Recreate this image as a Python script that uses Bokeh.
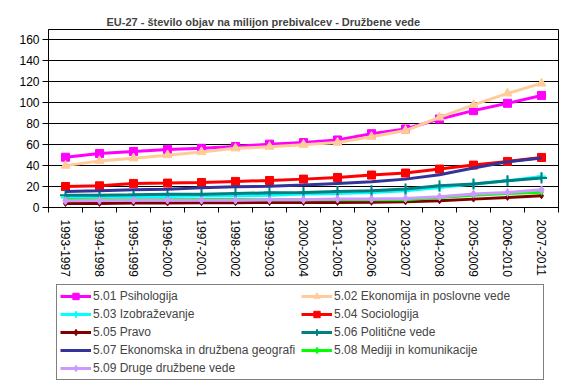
from bokeh.plotting import figure
from bokeh.layouts import column
from bokeh.models import (Range1d, FixedTicker, Legend, LegendItem, CustomJSTickFormatter)
from bokeh.embed import file_html
from bokeh.resources import INLINE

categories = ["1993-1997", "1994-1998", "1995-1999", "1996-2000", "1997-2001",
              "1998-2002", "1999-2003", "2000-2004", "2001-2005", "2002-2006",
              "2003-2007", "2004-2008", "2005-2009", "2006-2010", "2007-2011"]

psihologija = [48, 51.5, 53.5, 55.5, 56.5, 58.3, 60.5, 62, 64.5, 70.5, 75, 84.5, 92.5, 99.5, 107]
ekonomija = [40, 44.5, 47, 50, 53, 56.5, 58, 60, 62, 67.5, 73.5, 86, 98, 109, 118.5]
izobrazevanje = [9.6, 10.2, 10.5, 10.5, 10.9, 11.2, 11.8, 12.8, 13.4, 14.3, 16, 19.1, 22.4, 25.5, 29.7]
sociologija = [20.1, 20.7, 23, 23.3, 23.9, 24.9, 25.8, 27.1, 28.7, 31, 32.9, 36.7, 40.5, 44, 47.8]
pravo = [3.8, 3.8, 4.3, 4.3, 4.6, 4.6, 4.8, 4.8, 4.8, 5.0, 5.4, 6.4, 8.0, 9.6, 11.2]
politicne = [11.8, 11.8, 12.1, 12.7, 12.7, 13.4, 14.0, 14.3, 15.3, 16.0, 17.6, 20.7, 22.4, 25.5, 28.1]
geografija = [15.3, 15.9, 16.9, 17.5, 18.8, 19.8, 20.4, 21.4, 23.0, 24.6, 27.1, 31.3, 37.7, 43.7, 47.2]
mediji = [7.5, 7.5, 7.3, 7.3, 7.6, 7.6, 7.3, 7.3, 7.3, 7.3, 7.5, 9.6, 11.8, 13.4, 14.5]
druge = [6.4, 6.7, 7.0, 7.0, 7.0, 7.0, 7.3, 7.5, 8.0, 8.0, 8.6, 10.2, 12.8, 14.3, 16.9]

series = [
    ("5.01 Psihologija", psihologija, "#FF00FF", "square", 8),
    ("5.02 Ekonomija in poslovne vede", ekonomija, "#FFCC99", "triangle", 9),
    ("5.03 Izobraževanje", izobrazevanje, "#00FFFF", "cross", 9),
    ("5.04 Sociologija", sociologija, "#FF0000", "square", 8),
    ("5.05 Pravo", pravo, "#800000", "diamond", 6),
    ("5.06 Politične vede", politicne, "#008080", "cross", 11),
    ("5.07 Ekonomska in družbena geografi", geografija, "#333399", None, 0),
    ("5.08 Mediji in komunikacije", mediji, "#00FF00", "diamond", 6),
    ("5.09 Druge družbene vede", druge, "#CC99FF", "diamond", 8),
]

FONT = "Liberation Sans"
xs = list(range(len(categories)))

p = figure(width=561, height=282, output_backend="svg", toolbar_location=None,
           x_range=Range1d(-0.5, len(categories) - 0.5), y_range=Range1d(0, 170),
           min_border_left=48, min_border_right=3, min_border_top=29,
           min_border_bottom=75)
p.background_fill_color = "white"
p.border_fill_color = "white"
p.outline_line_color = "black"
p.outline_line_width = 1

p.title.text = "EU-27 - število objav na milijon prebivalcev - Družbene vede"
p.title.text_font = FONT
p.title.text_font_size = "11px"
p.title.text_font_style = "bold"
p.title.align = "left"
p.title.offset = 58
p.title.standoff = 3

p.xgrid.grid_line_color = None
p.ygrid.grid_line_color = "black"
p.ygrid.grid_line_width = 1
p.ygrid.ticker = FixedTicker(ticks=[0, 20, 40, 60, 80, 100, 120, 140, 160])

p.yaxis.ticker = FixedTicker(ticks=[0, 20, 40, 60, 80, 100, 120, 140, 160])
p.yaxis.major_label_text_font = FONT
p.yaxis.major_label_text_font_size = "12px"
p.yaxis.major_label_text_color = "black"
p.yaxis.axis_line_color = "black"
p.yaxis.major_tick_line_color = "black"
p.yaxis.major_tick_out = 6
p.yaxis.major_tick_in = 0
p.yaxis.minor_tick_line_color = None
p.yaxis.major_label_standoff = 3

p.xaxis.ticker = FixedTicker(ticks=xs, minor_ticks=[i - 0.5 for i in range(len(categories) + 1)])
p.xaxis.formatter = CustomJSTickFormatter(args=dict(labels=categories),
                                          code="return labels[Math.round(tick)] || '';")
p.xaxis.major_label_orientation = "vertical"
p.xaxis.major_label_text_font = FONT
p.xaxis.major_label_text_font_size = "12px"
p.xaxis.major_label_text_color = "black"
p.xaxis.major_tick_line_color = None
p.xaxis.minor_tick_line_color = "black"
p.xaxis.minor_tick_out = 5
p.xaxis.minor_tick_in = 0
p.xaxis.axis_line_color = "black"
p.xaxis.major_label_standoff = 6

# legend figure: same series drawn, but its ranges keep them out of view
q = figure(width=561, height=100, output_backend="svg", toolbar_location=None,
           x_range=Range1d(1000, 1001), y_range=Range1d(1000, 1001),
           x_axis_location=None, y_axis_location=None,
           min_border_left=0, min_border_right=0, min_border_top=0, min_border_bottom=0)
q.outline_line_color = None
q.grid.grid_line_color = None
q.background_fill_color = "white"
q.border_fill_color = "white"

items = []
for label, vals, color, marker, size in series:
    p.line(xs, vals, line_color=color, line_width=3)
    rs = [q.line(xs, vals, line_color=color, line_width=3)]
    if marker:
        if marker == "cross":
            p.scatter(xs, vals, marker=marker, size=size, line_color=color, line_width=2)
            rs.append(q.scatter(xs, vals, marker=marker, size=size, line_color=color,
                                line_width=2))
        else:
            p.scatter(xs, vals, marker=marker, size=size, fill_color=color, line_color=color)
            rs.append(q.scatter(xs, vals, marker=marker, size=size, fill_color=color,
                                line_color=color))
    items.append(LegendItem(label=label, renderers=rs))

legend = Legend(items=items, ncols=2, orientation="horizontal",
                location=(8, 2), label_text_font=FONT, label_text_font_size="12px",
                glyph_width=31, glyph_height=16, label_height=16, label_width=206,
                label_standoff=2, spacing=2, padding=3, margin=0,
                border_line_color="black", border_line_width=1,
                background_fill_color="white", background_fill_alpha=1)
q.add_layout(legend, "center")

layout = column(p, q, spacing=0)
open("out.html", "w").write(file_html(layout, INLINE))
